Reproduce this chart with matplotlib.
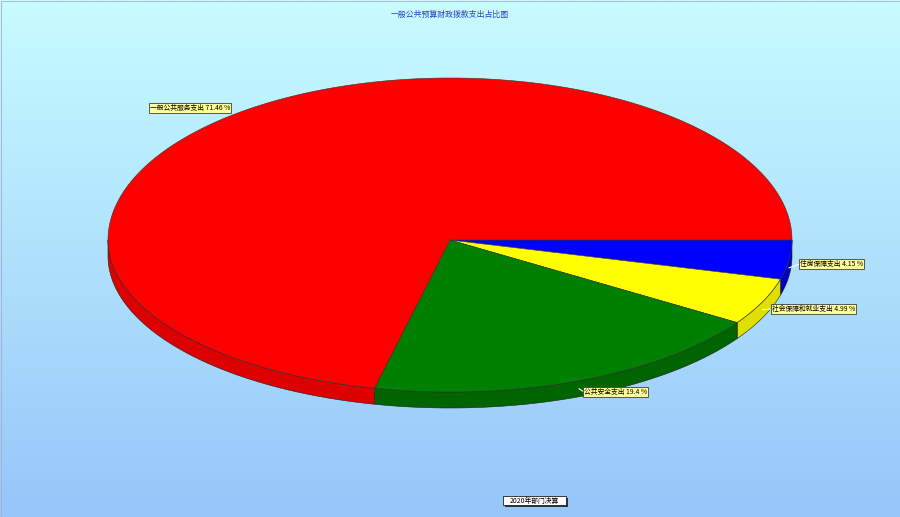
import numpy as np
import matplotlib
matplotlib.use('Agg')
import matplotlib.pyplot as plt
from matplotlib.patches import Polygon

plt.rcParams['font.family'] = ['Noto Sans CJK SC', 'DejaVu Sans']

# --- datos ---
title = '一般公共预算财政拨款支出占比图'
categories = ['住房保障支出', '社会保障和就业支出', '公共安全支出', '一般公共服务支出']
values = [4.15, 4.99, 19.4, 71.46]
labels = ['4.15 %', '4.99 %', '19.4 %', '71.46 %']
legend_text = '2020年部门决算'

top_colors = ['#0000ff', '#ffff00', '#008000', '#ff0000']
side_colors = ['#0000c0', '#e0e000', '#006400', '#dc0000']

# geometria de la elipse (pixeles)
cx, cy = 450, 240
rx, ry_back, ry_front = 342, 162, 152
depth = 16

W, H = 900, 517
fig = plt.figure(figsize=(W / 100, H / 100), dpi=100)
ax = fig.add_axes([0, 0, 1, 1])
ax.set_xlim(0, W)
ax.set_ylim(H, 0)
ax.axis('off')

# fondo degradado
grad = np.linspace(0, 1, 256).reshape(-1, 1)
top_c = np.array([200, 252, 255]) / 255
bot_c = np.array([150, 198, 250]) / 255
img = top_c * (1 - grad[..., None]) + bot_c * grad[..., None]
img = np.repeat(img, 2, axis=1)
ax.imshow(img, extent=[0, W, H, 0], aspect='auto', zorder=0)
ax.add_patch(plt.Rectangle((0.5, 0.5), W - 1, H - 1, fill=False, ec='#aac', lw=0.6, zorder=1))


def rim(t):
    s = np.sin(t)
    ry = np.where(s > 0, ry_front, ry_back)
    return cx + rx * np.cos(t), cy + ry * s


total = sum(values)
angles = np.concatenate([[0], np.cumsum(values) / total * 2 * np.pi])

# lados (solo la mitad delantera)
for i in range(len(values)):
    a0, a1 = angles[i], angles[i + 1]
    lo, hi = max(a0, 0), min(a1, np.pi)
    if hi <= lo:
        continue
    t = np.linspace(lo, hi, 120)
    x, y = rim(t)
    xs = np.concatenate([x, x[::-1]])
    ys = np.concatenate([y, y[::-1] + depth])
    ax.add_patch(Polygon(np.column_stack([xs, ys]), closed=True, fc=side_colors[i],
                         ec='#202020', lw=0.4, zorder=2))

# caras superiores
for i in range(len(values)):
    t = np.linspace(angles[i], angles[i + 1], 300)
    x, y = rim(t)
    xs = np.concatenate([[cx], x])
    ys = np.concatenate([[cy], y])
    ax.add_patch(Polygon(np.column_stack([xs, ys]), closed=True, fc=top_colors[i],
                         ec='#303030', lw=0.4, zorder=3))

# etiquetas
label_pos = [(800, 264), (772, 309), (584, 392), (150, 108)]
for i, (lx, ly) in enumerate(label_pos):
    mid = (angles[i] + angles[i + 1]) / 2
    px, py = rim(mid)
    if np.sin(mid) > 0:
        py = py + depth * 0.5
    if i < 3:
        ax.plot([px, lx], [py, ly], color='white', lw=0.8, zorder=4)
    ax.text(lx, ly, f'{categories[i]} {labels[i]}', fontsize=4.9, ha='left', va='center',
            color='black', zorder=5,
            bbox=dict(boxstyle='square,pad=0.15', fc='#ffff99', ec='#404040', lw=0.6))

ax.text(450, 14, title, fontsize=5.7, color='#2a3fc0', ha='center', va='center', zorder=5)

# leyenda
ax.add_patch(plt.Rectangle((505, 498), 63, 9, fc='#303030', ec='none', zorder=4))
ax.add_patch(plt.Rectangle((503, 496), 63, 9, fc='white', ec='#202020', lw=0.6, zorder=5))
ax.text(534.5, 500.5, legend_text, fontsize=4.9, ha='center', va='center', zorder=6)

fig.savefig('out.png', dpi=100)
